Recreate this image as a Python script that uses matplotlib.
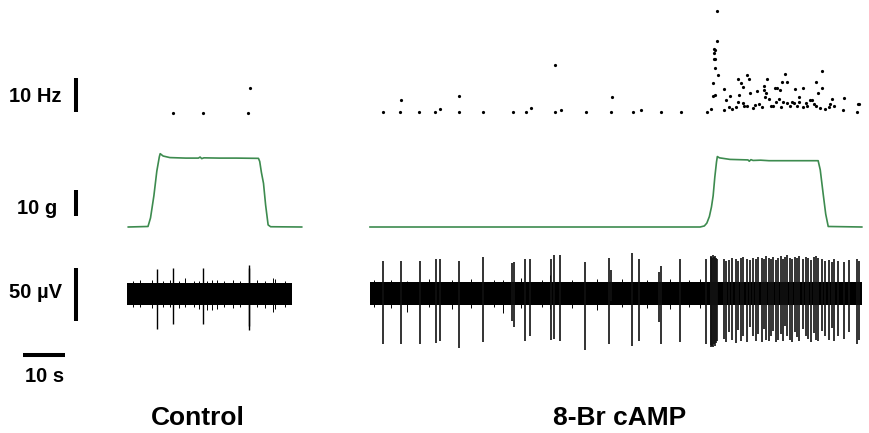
import matplotlib
matplotlib.use("Agg")
import matplotlib.pyplot as plt

plt.rcParams['font.family'] = ['Liberation Sans', 'DejaVu Sans']

# ---- instantaneous firing rate (Hz) ----
ctrl_rate_t = [10.9, 18.0, 28.9, 29.2]
ctrl_rate_hz = [0.4, 0.4, 0.4, 7.7]

camp_rate_t = [3.1, 7.1, 7.4, 11.7, 15.5, 16.7, 21.2, 21.2, 26.9, 34.0, 37.1, 38.3,
               44.0, 44.0, 45.5, 51.4, 57.4, 57.6, 62.6, 64.5, 69.3, 74.0, 80.2, 81.2,
               81.7, 82.1, 81.7, 82.1, 81.9, 82.1, 81.9, 82.1, 81.9, 82.6, 82.6, 82.9,
               84.3, 84.8, 84.3, 85.6, 85.4, 86.3, 87.1, 87.6, 87.8, 87.6, 88.3, 88.7,
               88.9, 89.0, 89.8, 89.8, 90.3, 90.5, 91.3, 92.2, 91.7, 92.5, 93.3, 93.8,
               93.8, 94.1, 94.3, 94.6, 94.9, 95.4, 96.0, 96.5, 97.0, 96.7, 97.3, 97.5,
               97.9, 98.1, 98.4, 98.9, 99.4, 99.2, 100.0, 100.5, 101.1, 101.0, 101.7, 102.1,
               102.2, 103.0, 103.2, 103.8, 104.1, 104.8, 105.2, 105.6, 106.2, 106.3, 106.7, 107.5,
               107.5, 107.1, 108.4, 109.2, 109.5, 110.0, 110.5, 112.7, 112.9, 115.9, 116.2, 116.5]
camp_rate_hz = [0.6, 0.6, 4.1, 0.6, 0.6, 1.5, 0.6, 5.3, 0.6, 0.6, 0.6, 1.8,
                0.6, 14.4, 1.2, 0.6, 0.6, 5.0, 0.6, 1.2, 0.6, 0.6, 0.6, 1.5,
                5.3, 5.6, 9.1, 13.5, 16.2, 16.2, 17.9, 18.8, 19.1, 21.5, 30.3, 11.5,
                7.4, 4.1, 1.2, 5.4, 2.1, 1.4, 2.0, 10.4, 5.6, 3.6, 9.0, 3.1,
                7.8, 2.4, 2.4, 11.4, 10.3, 6.3, 1.7, 6.9, 2.6, 2.8, 2.1, 8.2,
                7.1, 5.1, 6.1, 10.3, 4.3, 2.4, 2.4, 7.6, 7.6, 3.6, 4.3, 7.1,
                2.1, 9.5, 3.6, 11.8, 9.5, 3.1, 2.4, 3.6, 7.3, 3.1, 2.4, 5.1,
                3.6, 7.6, 2.0, 3.3, 2.4, 4.1, 4.1, 2.9, 2.4, 9.5, 6.1, 12.7,
                7.6, 1.7, 1.4, 2.0, 2.9, 4.3, 2.4, 1.2, 4.8, 0.7, 2.9, 2.9]

# ---- force (g) ----
ctrl_force_t = [0.3, 5.0, 5.6, 6.4, 7.1, 7.7, 7.9, 8.6, 10.2, 14.0, 17.0, 17.4, 17.8,
                18.3, 22.0, 26.0, 31.3, 31.6, 32.0, 32.5, 33.0, 33.6, 34.2, 41.6]
ctrl_force_g = [0.0, 0.2, 3.5, 12.0, 21.5, 27.0, 28.2, 27.3, 26.7, 26.5, 26.5, 26.9, 26.3,
                26.6, 26.5, 26.5, 26.4, 25.2, 21.0, 16.8, 8.5, 0.8, 0.1, 0.0]
camp_force_t = [0.0, 78.6, 79.6, 80.2, 80.8, 81.3, 81.7, 82.1, 82.5, 82.7, 83.2, 85.7, 90.0,
                90.3, 90.7, 91.2, 93.0, 95.0, 100.0, 106.7, 107.2, 107.9, 108.5, 109.1, 117.1]
camp_force_g = [0.0, 0.0, 0.4, 1.5, 4.0, 7.7, 12.0, 19.2, 25.0, 27.1, 26.6, 26.0, 25.8,
                25.3, 25.9, 25.6, 25.7, 25.5, 25.5, 25.5, 22.0, 12.7, 5.0, 0.2, 0.0]

# ---- raw nerve recording (uV) ----
ctrl_span = [0.0, 39.2]
ctrl_noise = [-10.4, 10.1]
ctrl_spike_t = [7.1, 11.0, 18.1, 29.0, 29.1]
ctrl_spike_up = [23.6, 24.5, 24.5, 25.0, 27.0]
ctrl_spike_dn = [-33.0, -28.0, -28.0, -30.0, -34.0]
ctrl_small_t = [1.5, 3.1, 5.9, 8.6, 10.3, 12.5, 13.8, 15.9, 17.2, 19.0, 20.2, 21.4, 23.1,
                25.2, 27.0, 31.0, 32.8, 34.7, 35.2, 37.6]
ctrl_small_up = [12, 13, 13, 12, 13, 12, 15, 12, 12, 12, 13, 13, 12,
                 13, 12, 13, 12, 15, 14, 12]
ctrl_small_dn = [-12, -12, -13, -12, -12, -13, -12, -12, -14, -15, -15, -14, -12,
                 -13, -12, -12, -13, -17, -14, -12]

camp_span = [0.0, 117.1]
camp_noise = [-10.4, 11.6]
camp_spike_t = [3.2, 7.3, 11.9, 15.7, 16.7, 21.3, 26.9, 33.9, 34.3, 37.0, 38.1, 43.2,
                43.7, 45.2, 51.1, 57.0, 57.3, 62.4, 64.1, 68.7, 69.2, 73.9, 80.0,
                81.1, 81.3, 81.5, 81.6, 81.8, 82.1, 82.3, 82.6,
                84.3, 84.8, 85.5, 86.3, 87.1, 87.7, 88.3, 88.9, 89.8, 90.4, 91.3, 91.8,
                92.4, 93.3, 93.8, 94.3, 94.9, 95.4, 96.0, 96.6, 97.2, 97.9, 98.4, 98.9,
                99.4, 100.0, 100.5, 101.1, 101.7, 102.2, 103.0, 103.8, 104.4, 104.9, 105.6, 106.2,
                106.7, 107.5, 108.4, 109.2, 110.0, 110.5, 111.4, 112.8, 114.0, 115.9, 116.5]
camp_spike_up = [31.6, 31.0, 31.6, 33.2, 33.2, 31.6, 34.7, 29.0, 30.0, 33.2, 33.2, 33.0,
                 36.4, 36.4, 30.0, 34.3, 22.3, 38.6, 33.2, 20.7, 26.0, 33.2, 33.2,
                 35, 36, 34, 36.4, 35, 36, 34, 33,
                 33, 31, 32, 34, 33, 31, 34, 35, 33, 32, 34, 33,
                 35, 34, 33, 36, 34, 33, 35, 32, 34, 36, 33, 35,
                 37, 34, 33, 35, 34, 36, 33, 35, 34, 32, 35, 36,
                 34, 33, 31, 32, 30, 33, 31, 30, 32, 33, 31]
camp_spike_dn = [-47.6, -47.6, -47.0, -46.4, -43.9, -51.4, -45.3, -25.0, -30.7, -43.9, -39.2, -43.0,
                 -42.4, -43.9, -52.4, -47.0, -7.0, -49.3, -43.9, -26.6, -47.0, -45.3, -47.0,
                 -48, -50, -49, -50.3, -47, -49, -46, -44,
                 -42, -45, -36, -43, -46, -34, -44, -40, -45, -31, -40, -44,
                 -38, -45, -33, -43, -44, -40, -35, -45, -43, -38, -44, -30,
                 -40, -43, -45, -36, -41, -44, -33, -40, -42, -45, -37, -43,
                 -44, -35, -40, -43, -32, -44, -40, -42, -36, -47, -43]
camp_small_t = [1.0, 5.0, 8.8, 14.0, 19.5, 24.0, 29.5, 31.7, 36.0, 41.0, 42.9, 48.0,
                54.0, 60.0, 66.0, 71.5, 76.0, 78.5]
camp_small_up = [13, 13, 12, 14, 13, 14, 13, 13, 15, 13, 18, 13, 14, 14, 13, 14, 13, 14]
camp_small_dn = [-12, -13, -17, -12, -14, -13, -12, -18, -13, -12, -14, -13, -15, -12, -13, -14, -12, -13]

W, H = 870, 433
PX_S = 4.2          # pixels per second
GREEN = '#3d8b4f'

fig = plt.figure(figsize=(W / 100, H / 100), dpi=100)


def panel(x0, y0, k):
    # full-figure axes, t=0 at pixel column x0, value 0 at pixel row y0, k px per unit
    ax = fig.add_axes([0, 0, 1, 1])
    ax.set_xlim(-x0 / PX_S, (W - x0) / PX_S)
    ax.set_ylim(-(H - y0) / k, y0 / k)
    ax.axis('off')
    ax.patch.set_visible(False)
    return ax


def px(x, y):
    return x / W, 1 - y / H


# rate row
ax = panel(127, 114, 3.4)
ax.plot(ctrl_rate_t, ctrl_rate_hz, 'o', ms=2.3, mew=0, color='black')
ax.plot([-12.1, -12.1], [0.5, 10.5], color='black', lw=2.9, solid_capstyle='butt')
ax = panel(370, 114, 3.4)
ax.plot(camp_rate_t, camp_rate_hz, 'o', ms=2.3, mew=0, color='black')

# force row
ax = panel(127, 227, 2.6)
ax.plot(ctrl_force_t, ctrl_force_g, color=GREEN, lw=1.2)
ax.plot([-12.1, -12.1], [4.2, 14.2], color='black', lw=2.9, solid_capstyle='butt')
ax = panel(370, 227, 2.6)
ax.plot(camp_force_t, camp_force_g, color=GREEN, lw=1.2)

# raw row
ax = panel(127, 294, 1.06)
ax.fill_between(ctrl_span, ctrl_noise[0], ctrl_noise[1], color='black', lw=0)
ax.vlines(ctrl_small_t, ctrl_small_dn, ctrl_small_up, color='black', lw=0.7)
ax.vlines(ctrl_spike_t, ctrl_spike_dn, ctrl_spike_up, color='black', lw=1.0)
ax.plot([-12.1, -12.1], [-25.5, 24.5], color='black', lw=2.9, solid_capstyle='butt')
ax.plot([-24.8, -14.8], [-57.5, -57.5], color='black', lw=2.9, solid_capstyle='butt')
ax = panel(370, 294, 1.06)
ax.fill_between(camp_span, camp_noise[0], camp_noise[1], color='black', lw=0)
ax.vlines(camp_small_t, camp_small_dn, camp_small_up, color='black', lw=0.7)
ax.vlines(camp_spike_t, camp_spike_dn, camp_spike_up, color='#111111', lw=1.2)

# labels
lab = dict(fontsize=14.5, fontweight='bold', va='center')
fig.text(*px(62, 96), '10 Hz', ha='right', **lab)
fig.text(*px(57, 209), '10 g', ha='right', **lab)
fig.text(*px(62, 293), '50 µV', ha='right', **lab)
fig.text(*px(45, 376), '10 s', ha='center', **lab)
fig.text(*px(198, 418), 'Control', ha='center', va='center', fontsize=19, fontweight='bold')
fig.text(*px(620, 418), '8-Br cAMP', ha='center', va='center', fontsize=19, fontweight='bold')

fig.savefig('out.png', dpi=100)
